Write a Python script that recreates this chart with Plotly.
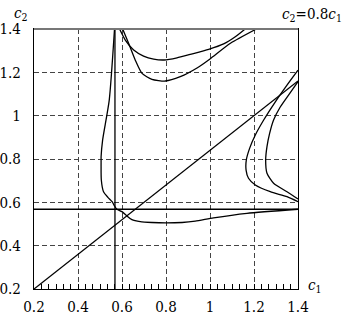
import plotly.graph_objects as go

# Straight reference lines
diag_c1 = [0.2, 1.4]
diag_c2 = [0.2, 1.16]
crit_c1 = [0.568, 0.568]
crit_c1_span = [0.2, 1.4]
crit_c2 = [0.568, 0.568]
crit_c2_span = [0.2, 1.4]

# Left/lower boundary curve
curveA_c1 = [0.566, 0.542, 0.512, 0.505, 0.505, 0.506, 0.516, 0.536, 0.555, 0.566, 0.577,
             0.600, 0.623, 0.645, 0.683, 0.736, 0.797, 0.873, 0.933, 1.016, 1.168, 1.40]
curveA_c2 = [1.40, 1.072, 0.888, 0.81, 0.795, 0.703, 0.649, 0.623, 0.603, 0.583, 0.568,
             0.557, 0.537, 0.520, 0.511, 0.507, 0.505, 0.507, 0.513, 0.528, 0.549, 0.568]

# Upper curves
up1_c1 = [0.589, 0.615, 0.653, 0.698, 0.744, 0.792, 0.85, 0.91, 0.994, 1.062, 1.115, 1.16]
up1_c2 = [1.40, 1.349, 1.303, 1.275, 1.261, 1.257, 1.267, 1.283, 1.306, 1.331, 1.364, 1.40]
up2_c1 = [0.603, 0.630, 0.660, 0.691, 0.736, 0.797, 0.865, 0.941, 1.0, 1.093, 1.211]
up2_c2 = [1.40, 1.334, 1.257, 1.195, 1.168, 1.160, 1.18, 1.22, 1.262, 1.334, 1.40]

# Right curves
rout_c1 = [1.4, 1.35, 1.297, 1.244, 1.206, 1.18, 1.165, 1.164, 1.175, 1.206, 1.274, 1.35, 1.4]
rout_c2 = [1.21, 1.141, 1.064, 0.98, 0.911, 0.849, 0.795, 0.749, 0.711, 0.68, 0.649, 0.626, 0.603]
rin_c1 = [1.4, 1.357, 1.32, 1.289, 1.271, 1.259, 1.253, 1.259, 1.289, 1.35, 1.4]
rin_c2 = [1.157, 1.095, 1.041, 0.98, 0.918, 0.857, 0.795, 0.734, 0.688, 0.649, 0.615]

tick_vals = [0.2, 0.4, 0.6, 0.8, 1.0, 1.2, 1.4]
tick_text = ["0.2", "0.4", "0.6", "0.8", "1", "1.2", "1.4"]

FONT = "DejaVu Serif Condensed, DejaVu Serif"
LW = 1.3

fig = go.Figure()

def add(x, y, spline=False):
    fig.add_trace(go.Scatter(
        x=x, y=y, mode="lines",
        line=dict(color="black", width=LW, shape="spline" if spline else "linear", smoothing=0.6),
        hoverinfo="skip", showlegend=False, cliponaxis=True))

add(diag_c1, diag_c2)
add(crit_c1, crit_c1_span)
add(crit_c2_span, crit_c2)
add(curveA_c1, curveA_c2, True)
add(up1_c1, up1_c2, True)
add(up2_c1, up2_c2, True)
add(rout_c1, rout_c2, True)
add(rin_c1, rin_c2, True)

axis_common = dict(
    range=[0.2, 1.4], tickvals=tick_vals, ticktext=tick_text, automargin=False,
    showgrid=True, gridcolor="#444", gridwidth=1.1, griddash="5px,3px",
    zeroline=False, showline=True, linecolor="black", linewidth=1.3, mirror=True,
    tickfont=dict(family=FONT, size=15, color="black"),
)

fig.update_xaxes(**axis_common, ticks="inside", ticklen=5, tickcolor="black",
                 minor=dict(dtick=1/30, tick0=0.2, ticks="inside", ticklen=5,
                            tickcolor="black", showgrid=False),
                 ticklabelstandoff=4)
fig.update_yaxes(**axis_common, ticks="", ticklabelstandoff=9)

fig.add_shape(type="line", xref="x domain", yref="y domain", x0=0, x1=1, y0=1, y1=1,
              line=dict(color="#777", width=2))

fig.add_annotation(xref="paper", yref="paper", x=0.0, y=1.0, yshift=16, xshift=-4,
                   xanchor="right", yanchor="middle", showarrow=False,
                   text="<i>c</i><sub>2</sub>", font=dict(family=FONT, size=15, color="black"))
fig.add_annotation(xref="paper", yref="paper", x=1.0, y=1.0, yshift=15, xshift=46,
                   xanchor="right", yanchor="middle", showarrow=False,
                   text="<i>c</i><sub>2</sub>=0.8<i>c</i><sub>1</sub>",
                   font=dict(family=FONT, size=15, color="black"))
fig.add_annotation(xref="paper", yref="paper", x=1.0, y=0.0, xshift=17, yshift=4,
                   xanchor="center", yanchor="middle", showarrow=False,
                   text="<i>c</i><sub>1</sub>", font=dict(family=FONT, size=15, color="black"))

fig.update_layout(width=350, height=318, margin=dict(l=34, r=52, t=29, b=29),
                  plot_bgcolor="white", paper_bgcolor="white",
                  font=dict(family=FONT, size=15, color="black"))

fig.write_html("out.html")
